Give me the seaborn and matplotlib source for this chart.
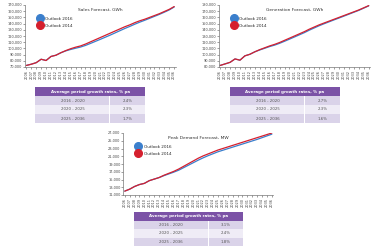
import numpy as np
import pandas as pd
import matplotlib
matplotlib.use("Agg")
import matplotlib.pyplot as plt
from matplotlib.patches import Rectangle
import seaborn as sns

years = list(range(2006, 2037))

sales_2014 = [72500, 74500, 77000, 82500, 80500, 87000, 89000, 93000, 96500, 99500,
              102000, 104000, 107000, 110500, 114000, 117500, 121000, 124500, 128000, 131500,
              135000, 138000, 141500, 144500, 147000, 150000, 153000, 156000, 159500, 163000, 167500]
sales_2016 = [72500, 74500, 77000, 82500, 80500, 87000, 89000, 93000, 96000, 98300,
              100300, 102200, 104800, 108000, 111300, 114600, 118000, 121400, 125000, 128600,
              132200, 135500, 139000, 142300, 145300, 148500, 151700, 154900, 158400, 162100, 166800]

gen_2014 = [82500, 85000, 87500, 93000, 91000, 98000, 100500, 104500, 108000, 111000,
            114000, 116500, 119500, 123000, 126500, 130000, 133500, 137000, 141000, 144500,
            148000, 151000, 154000, 157000, 160000, 163000, 166000, 169000, 172000, 175500, 179000]
gen_2016 = [82500, 85000, 87500, 93000, 91000, 98000, 100500, 104500, 107500, 110200,
            113000, 115300, 118200, 121500, 124900, 128400, 131900, 135400, 139400, 143000,
            146600, 149800, 152900, 156000, 159000, 162100, 165200, 168300, 171400, 175000, 178600]

peak_2014 = [12000, 12500, 13200, 13700, 14000, 14700, 15100, 15500, 16100, 16600,
             17100, 17700, 18400, 19100, 19800, 20500, 21100, 21600, 22100, 22600,
             23000, 23400, 23800, 24200, 24600, 25000, 25400, 25800, 26200, 26600, 27000]
peak_2016 = [12000, 12500, 13200, 13700, 14000, 14700, 15100, 15500, 16000, 16450,
             16900, 17400, 18050, 18700, 19350, 20000, 20600, 21150, 21650, 22150,
             22550, 22950, 23350, 23750, 24150, 24550, 24950, 25350, 25800, 26250, 26700]

series_names = ["Outlook 2016", "Outlook 2014"]
titles = ["Sales Forecast, GWh", "Generation Forecast, GWh", "Peak Demand Forecast, MW"]
yticks_list = [list(range(70000, 170001, 10000)),
               list(range(80000, 180001, 10000)),
               list(range(11000, 27001, 2000))]

table_header = "Average period growth rates, % pa"
periods = ["2016 - 2020", "2020 - 2025", "2025 - 2036"]
rates_sales = ["2.4%", "2.3%", "1.7%"]
rates_gen = ["2.7%", "2.3%", "1.6%"]
rates_peak = ["3.1%", "2.4%", "1.8%"]

sns.set_theme(style="white")
plt.rcParams['font.family'] = ['DejaVu Sans']

fig = plt.figure(figsize=(3.77, 2.5), dpi=100)
fig.patch.set_facecolor("white")

palette = {"Outlook 2016": "#3b7fcc", "Outlook 2014": "#d5202e"}

chart_pos = [[0.066, 0.732, 0.40, 0.248],
             [0.580, 0.732, 0.402, 0.248],
             [0.327, 0.220, 0.398, 0.248]]
table_pos = [[0.093, 0.508, 0.292, 0.144],
             [0.610, 0.508, 0.292, 0.144],
             [0.356, 0.016, 0.289, 0.136]]

data_sets = [(sales_2016, sales_2014), (gen_2016, gen_2014), (peak_2016, peak_2014)]
rates_all = [rates_sales, rates_gen, rates_peak]

for i in range(3):
    s16, s14 = data_sets[i]
    df = pd.DataFrame({
        "Year": years + years,
        "Value": s16 + s14,
        "Series": [series_names[0]] * len(years) + [series_names[1]] * len(years),
    })
    ax = fig.add_axes(chart_pos[i])
    sns.lineplot(data=df, x="Year", y="Value", hue="Series", palette=palette,
                 hue_order=series_names, ax=ax, linewidth=0.9, legend=False)
    yt = yticks_list[i]
    ax.set_ylim(yt[0], yt[-1])
    ax.set_yticks(yt)
    ax.set_yticklabels([f"{v:,}" for v in yt], fontsize=2.5, color="#444444")
    ax.set_xlim(years[0] - 0.3, years[-1] + 0.3)
    ax.set_xticks(years)
    ax.set_xticklabels([str(y) for y in years], rotation=90, fontsize=2.5, color="#444444")
    ax.tick_params(axis="both", length=1.2, width=0.4, pad=0.8, direction="out", color="#555555")
    ax.tick_params(axis="x", bottom=True)
    ax.tick_params(axis="y", left=True)
    for sp in ["top", "right"]:
        ax.spines[sp].set_visible(False)
    for sp in ["left", "bottom"]:
        ax.spines[sp].set_linewidth(0.5)
        ax.spines[sp].set_color("#777777")
    ax.set_xlabel("")
    ax.set_ylabel("")
    ax.set_title(titles[i], fontsize=3.2, color="#333333", pad=-3, y=0.97)
    handles = [plt.Line2D([], [], marker="o", linestyle="", markersize=5.5,
                          markerfacecolor=palette[n], markeredgecolor=palette[n]) for n in series_names]
    ax.legend(handles, series_names, loc="upper left", bbox_to_anchor=(0.06, 0.84),
              frameon=False, fontsize=3.0, handletextpad=0.3, labelspacing=0.7,
              borderaxespad=0)

    tax = fig.add_axes(table_pos[i])
    tax.set_xlim(0, 1)
    tax.set_ylim(0, 4)
    tax.axis("off")
    tax.add_patch(Rectangle((0, 3), 1, 1, facecolor="#7b52a6", edgecolor="none"))
    tax.text(0.5, 3.5, table_header, color="white", fontsize=2.9, fontweight="bold",
             ha="center", va="center")
    row_colors = ["#dad3e9", "#efecf6", "#dad3e9"]
    split = 0.68
    for r in range(3):
        yb = 2 - r
        tax.add_patch(Rectangle((0, yb), split - 0.005, 1, facecolor=row_colors[r], edgecolor="none"))
        tax.add_patch(Rectangle((split + 0.005, yb), 1 - split - 0.005, 1,
                                facecolor=row_colors[r], edgecolor="none"))
        tax.text(split / 2, yb + 0.5, periods[r], fontsize=2.8, color="#555555",
                 ha="center", va="center")
        tax.text(split + (1 - split) / 2, yb + 0.5, rates_all[i][r], fontsize=2.8,
                 color="#555555", ha="center", va="center")

fig.savefig("out.png", dpi=100, facecolor="white")
